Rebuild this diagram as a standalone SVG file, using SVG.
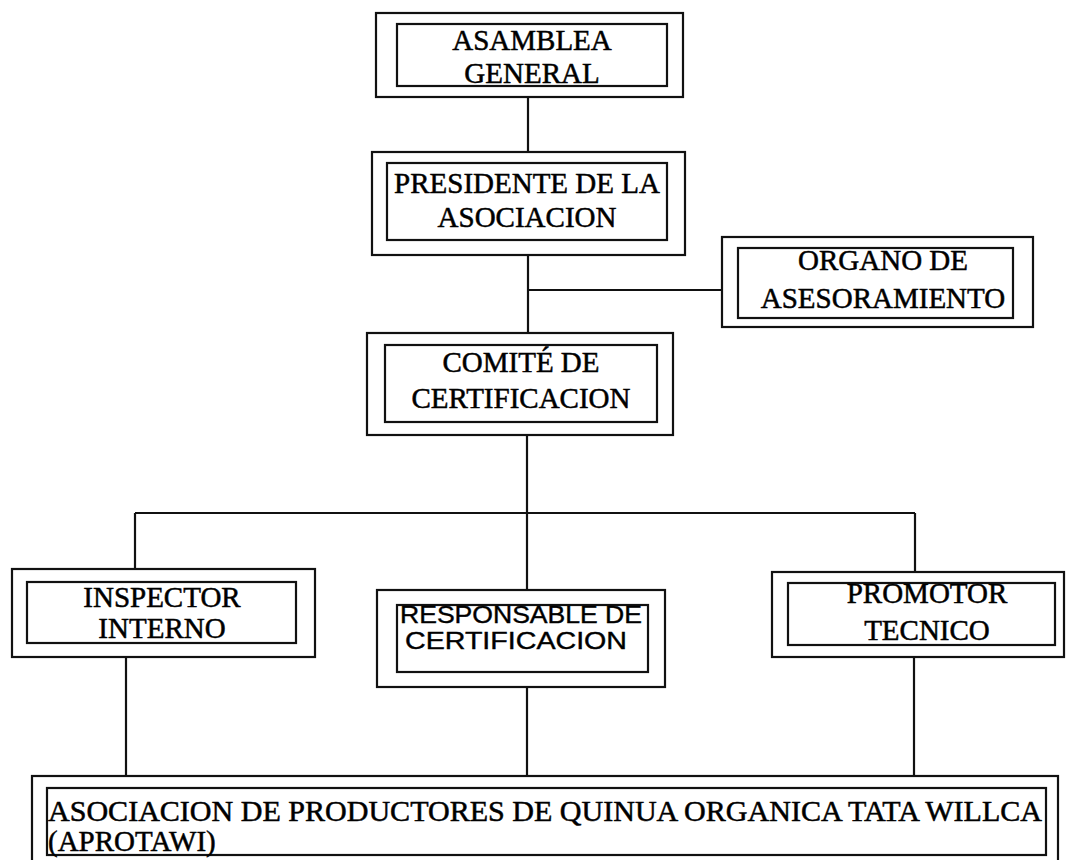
<svg xmlns="http://www.w3.org/2000/svg" width="1067" height="860" viewBox="0 0 1067 860">
  <style>
    .outer { fill: none; stroke: #111; stroke-width: 2.2; }
    .inner { fill: none; stroke: #111; stroke-width: 2.2; }
    .wire { fill: none; stroke: #111; stroke-width: 2.2; }
    .serif { font-family: "Liberation Serif", "Times New Roman", serif; font-size: 29px; fill: #000; stroke: #000; stroke-width: 0.5; }
    .sans { font-family: "Liberation Sans", Arial, sans-serif; font-size: 24px; fill: #000; stroke: #000; stroke-width: 0.4; }
    .mid { text-anchor: middle; }
  </style>
  <rect width="1067" height="860" fill="#fff"/>

  <!-- connectors -->
  <g id="connectors">
    <line class="wire" x1="528" y1="97" x2="528" y2="152"/>
    <line class="wire" x1="528" y1="255" x2="528" y2="333"/>
    <line class="wire" x1="528" y1="290" x2="722" y2="290"/>
    <line class="wire" x1="527" y1="435" x2="527" y2="513"/>
    <line class="wire" x1="135" y1="513" x2="915" y2="513"/>
    <line class="wire" x1="135" y1="513" x2="135" y2="569"/>
    <line class="wire" x1="527" y1="513" x2="527" y2="590"/>
    <line class="wire" x1="915" y1="513" x2="915" y2="572"/>
    <line class="wire" x1="126" y1="657" x2="126" y2="776"/>
    <line class="wire" x1="527" y1="687" x2="527" y2="776"/>
    <line class="wire" x1="914" y1="657" x2="914" y2="776"/>
  </g>

  <g id="asamblea">
    <rect class="outer" x="376" y="13" width="307" height="84"/>
    <rect class="inner" x="397" y="24" width="270" height="62"/>
    <text class="serif mid" x="532" y="50">ASAMBLEA</text>
    <text class="serif mid" x="532" y="83">GENERAL</text>
  </g>

  <g id="presidente">
    <rect class="outer" x="372" y="152" width="313" height="103"/>
    <rect class="inner" x="387" y="163" width="280" height="77"/>
    <text class="serif mid" x="527" y="193">PRESIDENTE DE LA</text>
    <text class="serif mid" x="527" y="227">ASOCIACION</text>
  </g>

  <g id="organo">
    <rect class="outer" x="722" y="237" width="311" height="90"/>
    <rect class="inner" x="738" y="248" width="275" height="70"/>
    <text class="serif mid" x="883" y="270">ORGANO DE</text>
    <text class="serif mid" x="883" y="308">ASESORAMIENTO</text>
  </g>

  <g id="comite">
    <rect class="outer" x="367" y="333" width="306" height="102"/>
    <rect class="inner" x="385" y="345" width="272" height="77"/>
    <text class="serif mid" x="521" y="372">COMITÉ DE</text>
    <text class="serif mid" x="521" y="408">CERTIFICACION</text>
  </g>

  <g id="inspector">
    <rect class="outer" x="12" y="569" width="303" height="88"/>
    <rect class="inner" x="27" y="582" width="269" height="61"/>
    <text class="serif mid" x="162" y="607">INSPECTOR</text>
    <text class="serif mid" x="162" y="638">INTERNO</text>
  </g>

  <g id="responsable">
    <rect class="outer" x="377" y="590" width="288" height="97"/>
    <rect class="inner" x="397" y="605" width="251" height="67"/>
    <text class="sans" x="400" y="623" textLength="242" lengthAdjust="spacingAndGlyphs">RESPONSABLE DE</text>
    <text class="sans" x="405" y="649" textLength="222" lengthAdjust="spacingAndGlyphs">CERTIFICACION</text>
  </g>

  <g id="promotor">
    <rect class="outer" x="772" y="572" width="292" height="85"/>
    <rect class="inner" x="788" y="583" width="267" height="62"/>
    <text class="serif mid" x="927" y="603">PROMOTOR</text>
    <text class="serif mid" x="927" y="640">TECNICO</text>
  </g>

  <g id="aprotawi">
    <rect class="outer" x="32" y="776" width="1026" height="100"/>
    <rect class="inner" x="47" y="788" width="999" height="67"/>
    <text class="serif" x="48" y="821" textLength="994" lengthAdjust="spacingAndGlyphs">ASOCIACION DE PRODUCTORES DE QUINUA ORGANICA TATA WILLCA</text>
    <text class="serif" x="48" y="851">(APROTAWI)</text>
  </g>
</svg>
